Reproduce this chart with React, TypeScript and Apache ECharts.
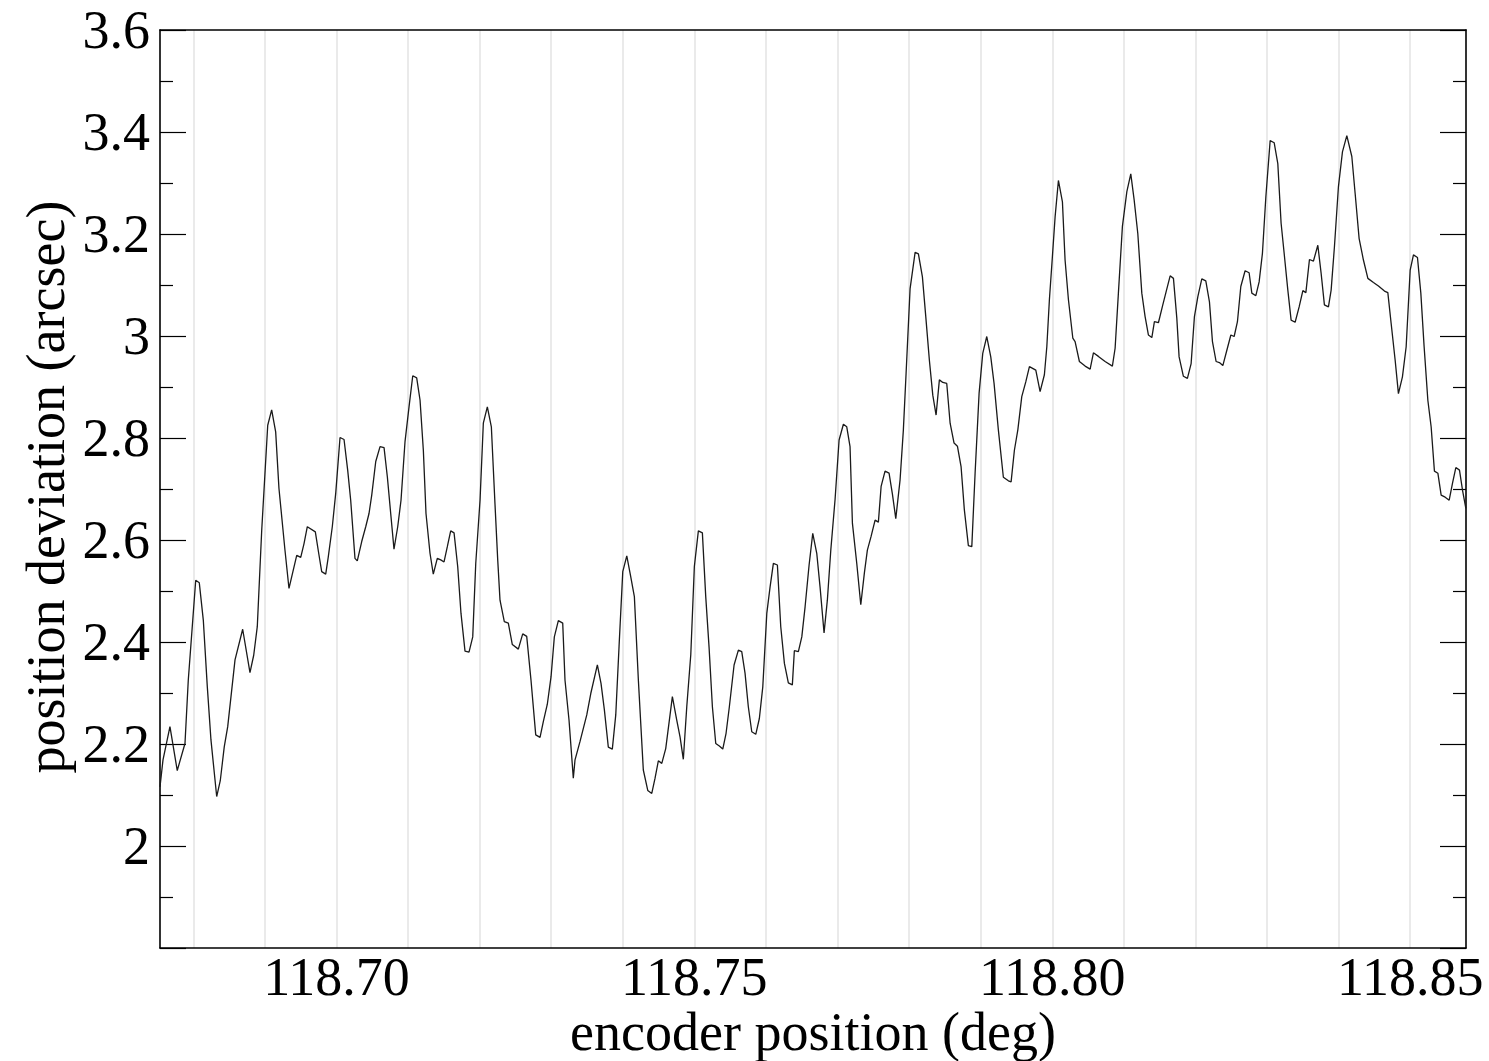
import React, { useEffect, useRef } from "react";
import * as echarts from "echarts";

// encoder position (deg)
const encoderPos: number[] = [
  118.67535, 118.67577, 118.67674, 118.67776, 118.67884, 118.6793, 118.68034, 118.68084, 118.6814, 118.68196,
  118.68247, 118.68327, 118.68377, 118.68433, 118.68481, 118.68583, 118.6869, 118.68792, 118.68844, 118.68894,
  118.68956, 118.6904, 118.69095, 118.69151, 118.69197, 118.69281, 118.69337, 118.69445, 118.69501, 118.69547,
  118.69593, 118.69705, 118.69752, 118.69794, 118.6985,
  118.69886, 118.69942, 118.6999, 118.7005, 118.70106, 118.70157, 118.70199, 118.70259, 118.70291, 118.70353,
  118.70409, 118.70455, 118.70493, 118.70549, 118.70609, 118.70665, 118.70711, 118.70758, 118.70804, 118.70856,
  118.70902, 118.70958, 118.71014, 118.71066, 118.71121, 118.71168, 118.71214, 118.71251, 118.71307, 118.71353,
  118.71409, 118.71457, 118.71503, 118.71549, 118.71596, 118.71643, 118.71694, 118.7174, 118.71796, 118.71852,
  118.71904, 118.71946, 118.72006, 118.72052, 118.72108, 118.72164, 118.72215,
  118.72253, 118.72285, 118.72345, 118.72401, 118.72457, 118.72541, 118.72602, 118.72658, 118.72718, 118.72784,
  118.72844, 118.7289, 118.72946, 118.72998, 118.73044, 118.731, 118.73161, 118.73193, 118.73249, 118.73309,
  118.73333, 118.73403, 118.73497, 118.73553, 118.73645, 118.73696, 118.73743, 118.73798, 118.73854, 118.73902,
  118.73948, 118.74, 118.74056, 118.74111, 118.74162, 118.74218, 118.74287, 118.74349, 118.74405, 118.74451,
  118.74497, 118.74545, 118.746,
  118.74693, 118.74754, 118.748, 118.74846, 118.74894, 118.7495, 118.75, 118.75056, 118.75112, 118.75159,
  118.75205, 118.75252, 118.75299, 118.75349, 118.75397, 118.75443, 118.75489, 118.75555, 118.75615, 118.75662,
  118.75708, 118.75754, 118.75802, 118.75858, 118.75908, 118.75956, 118.76012, 118.76058, 118.76104, 118.7616,
  118.76207, 118.76258, 118.76313, 118.76369, 118.76397, 118.76453, 118.76501, 118.76547, 118.76603, 118.76654,
  118.7671, 118.76756, 118.76812, 118.76858, 118.76906, 118.76966,
  118.77022, 118.77082, 118.77129, 118.77175, 118.77208, 118.77269, 118.77325, 118.77375, 118.77417, 118.77469,
  118.77525, 118.77571, 118.77609, 118.77664, 118.7772, 118.77766, 118.77814, 118.77874, 118.7792, 118.77958,
  118.78014, 118.78084, 118.7813, 118.78186, 118.78233, 118.78283, 118.78331, 118.78377, 118.78423, 118.78471,
  118.78526, 118.78573, 118.78628, 118.78675, 118.78726, 118.78772, 118.78828, 118.78876, 118.78922, 118.78978,
  118.79029, 118.79085, 118.79141, 118.79187, 118.79247, 118.79317, 118.79387,
  118.79425, 118.79471, 118.79519, 118.79574, 118.7963, 118.79681, 118.7977, 118.7983, 118.7989, 118.79924,
  118.7996, 118.80002, 118.8004, 118.80086, 118.80142, 118.80179, 118.80226, 118.80287, 118.80319, 118.80379,
  118.80459, 118.80529, 118.80575, 118.80645, 118.80738, 118.8084, 118.80878, 118.80924, 118.8098, 118.81042,
  118.81097, 118.81144, 118.81195, 118.81251, 118.81297, 118.81343, 118.81391, 118.81427, 118.81483, 118.81539,
  118.81591, 118.81647, 118.81693, 118.8174,
  118.81772, 118.81832, 118.81888, 118.8194, 118.81986, 118.82034, 118.82089, 118.82145, 118.82196, 118.82238,
  118.82289, 118.82335, 118.82383, 118.82439, 118.82495, 118.82541, 118.82587, 118.82634, 118.82694, 118.8275,
  118.82788, 118.82844, 118.8289, 118.82936, 118.82984, 118.83044, 118.831, 118.83151, 118.83197, 118.83244,
  118.83291, 118.83337, 118.83393, 118.83449, 118.83501, 118.83543, 118.83593, 118.83649, 118.8371, 118.83756,
  118.83802, 118.83858, 118.83896, 118.83942, 118.83998, 118.84054, 118.84115,
  118.84185, 118.84231, 118.84287, 118.84347, 118.84409, 118.84487, 118.84557, 118.84641, 118.84688, 118.84734,
  118.8479, 118.84836, 118.84892, 118.84944, 118.85, 118.85046, 118.85102, 118.85149, 118.85195, 118.85247,
  118.85293, 118.85339, 118.85387, 118.85433, 118.85489, 118.85545, 118.85591, 118.85638, 118.85689, 118.85731,
  118.85778,
];

// position deviation (arcsec)
const deviation: number[] = [
  2.116, 2.169, 2.234, 2.148, 2.201, 2.325, 2.521, 2.516, 2.443, 2.312,
  2.208, 2.097, 2.128, 2.195, 2.234, 2.365, 2.425, 2.34, 2.374, 2.43,
  2.619, 2.825, 2.855, 2.812, 2.701, 2.58, 2.505, 2.57, 2.566, 2.593,
  2.626, 2.616, 2.574, 2.538, 2.533,
  2.567, 2.626, 2.692, 2.801, 2.797, 2.737, 2.678, 2.564, 2.559, 2.597,
  2.626, 2.652, 2.688, 2.754, 2.783, 2.781, 2.724, 2.652, 2.582, 2.626,
  2.678, 2.793, 2.861, 2.922, 2.918, 2.874, 2.776, 2.652, 2.574, 2.533,
  2.564, 2.561, 2.557, 2.587, 2.618, 2.614, 2.548, 2.456, 2.382, 2.38,
  2.41, 2.554, 2.678, 2.829, 2.861, 2.822, 2.67,
  2.561, 2.482, 2.44, 2.437, 2.395, 2.386, 2.416, 2.411, 2.325, 2.218,
  2.213, 2.244, 2.278, 2.332, 2.41, 2.442, 2.437, 2.325, 2.247, 2.133,
  2.169, 2.205, 2.257, 2.299, 2.355, 2.319, 2.267, 2.194, 2.19, 2.257,
  2.391, 2.538, 2.569, 2.528, 2.489, 2.325, 2.149, 2.109, 2.103, 2.133,
  2.167, 2.162, 2.191,
  2.293, 2.247, 2.214, 2.17, 2.273, 2.375, 2.548, 2.618, 2.614, 2.489,
  2.391, 2.273, 2.201, 2.196, 2.19, 2.221, 2.273, 2.355, 2.384, 2.381,
  2.339, 2.273, 2.224, 2.219, 2.25, 2.312, 2.456, 2.508, 2.554, 2.551,
  2.43, 2.358, 2.32, 2.316, 2.383, 2.381, 2.41, 2.469, 2.551, 2.613,
  2.574, 2.508, 2.418, 2.482, 2.58, 2.68,
  2.796, 2.827, 2.822, 2.783, 2.633, 2.554, 2.473, 2.535, 2.58, 2.607,
  2.639, 2.635, 2.705, 2.735, 2.731, 2.691, 2.642, 2.718, 2.816, 2.927,
  3.093, 3.164, 3.161, 3.116, 3.038, 2.953, 2.884, 2.845, 2.914, 2.909,
  2.907, 2.829, 2.79, 2.784, 2.744, 2.659, 2.589, 2.587, 2.731, 2.888,
  2.966, 2.999, 2.959, 2.907, 2.816, 2.723, 2.716,
  2.714, 2.776, 2.816, 2.881, 2.91, 2.94, 2.933, 2.891, 2.924, 2.979,
  3.071, 3.156, 3.234, 3.305, 3.263, 3.149, 3.071, 2.996, 2.989, 2.95,
  2.941, 2.935, 2.967, 2.96, 2.95, 2.941, 2.976, 3.084, 3.215, 3.283,
  3.318, 3.267, 3.201, 3.084, 3.038, 3.002, 2.997, 3.028, 3.026, 3.058,
  3.087, 3.118, 3.113, 3.035,
  2.959, 2.921, 2.917, 2.946, 3.038, 3.077, 3.112, 3.108, 3.067, 2.989,
  2.95, 2.948, 2.942, 2.972, 3.002, 2.999, 3.028, 3.097, 3.128, 3.124,
  3.084, 3.079, 3.106, 3.162, 3.273, 3.383, 3.379, 3.338, 3.221, 3.156,
  3.09, 3.031, 3.027, 3.057, 3.089, 3.085, 3.15, 3.147, 3.178, 3.123,
  3.061, 3.057, 3.09, 3.175, 3.293, 3.361, 3.393,
  3.352, 3.28, 3.191, 3.149, 3.113, 3.105, 3.098, 3.088, 3.085, 3.025,
  2.953, 2.887, 2.92, 2.979, 3.129, 3.159, 3.154, 3.084, 2.979, 2.874,
  2.822, 2.735, 2.731, 2.688, 2.684, 2.678, 2.711, 2.742, 2.737, 2.698,
  2.662,
];

const xGridValues: number[] = [
  118.68, 118.69, 118.7, 118.71, 118.72, 118.73, 118.74, 118.75, 118.76,
  118.77, 118.78, 118.79, 118.8, 118.81, 118.82, 118.83, 118.84, 118.85,
];
const xLabelValues: number[] = [118.7, 118.75, 118.8, 118.85];
const yLabelValues: number[] = [2, 2.2, 2.4, 2.6, 2.8, 3, 3.2, 3.4, 3.6];

const X_TITLE = "encoder position (deg)";
const Y_TITLE = "position deviation (arcsec)";

const X_MIN = 118.67535;
const X_MAX = 118.8578;
const Y_MIN = 1.8;
const Y_MAX = 3.6;

const FONT = '"Liberation Serif", "Times New Roman", Times, serif';
const FS = 54;

export default function App() {
  const ref = useRef<HTMLDivElement>(null);

  useEffect(() => {
    if (!ref.current) return;
    const chart = echarts.init(ref.current, null, { renderer: "svg" });
    const data = encoderPos.map((x, i) => [x, deviation[i]]);

    const axisLineStyle = { color: "#000", width: 1.6 };
    const yCommon: any = {
      type: "value",
      min: Y_MIN,
      max: Y_MAX,
      interval: 0.2,
      axisLine: { show: true, onZero: false, lineStyle: axisLineStyle },
      axisTick: { show: true, inside: true, length: 26, lineStyle: { color: "#000", width: 1.2 } },
      minorTick: { show: true, splitNumber: 2, length: 13, lineStyle: { color: "#000", width: 1.2 } },
      splitLine: { show: false },
      minorSplitLine: { show: false },
    };

    chart.setOption({
      animation: false,
      backgroundColor: "#ffffff",
      grid: {
        left: 160,
        right: 23,
        top: 30,
        bottom: 113,
        containLabel: false,
        outerBoundsMode: "none",
      },
      xAxis: [
        {
          type: "value",
          min: X_MIN,
          max: X_MAX,
          position: "bottom",
          axisLine: { show: true, onZero: false, lineStyle: axisLineStyle },
          axisTick: { show: false, customValues: xGridValues },
          splitLine: { show: true, lineStyle: { color: "#e3e3e3", width: 1.5 } },
          axisLabel: {
            customValues: xLabelValues,
            formatter: (v: number) => v.toFixed(2),
            fontFamily: FONT,
            fontSize: FS,
            lineHeight: 44,
            color: "#000",
            margin: 7,
          },
        },
        {
          type: "value",
          min: X_MIN,
          max: X_MAX,
          position: "top",
          axisLine: { show: true, onZero: false, lineStyle: axisLineStyle },
          axisTick: { show: false },
          axisLabel: { show: false },
          splitLine: { show: false },
        },
      ],
      yAxis: [
        {
          ...yCommon,
          position: "left",
          axisLabel: {
            customValues: yLabelValues,
            formatter: (v: number) => String(parseFloat(v.toFixed(1))),
            fontFamily: FONT,
            fontSize: FS,
            color: "#000",
            margin: 10,
          },
        },
        {
          ...yCommon,
          position: "right",
          axisLabel: { show: false },
        },
      ],
      graphic: [
        {
          type: "text",
          x: 46,
          y: 487,
          rotation: Math.PI / 2,
          style: {
            text: Y_TITLE,
            fontFamily: FONT,
            fontSize: FS,
            fill: "#000",
            align: "center",
            verticalAlign: "middle",
          },
        },
        {
          type: "text",
          x: 813,
          y: 1032,
          style: {
            text: X_TITLE,
            fontFamily: FONT,
            fontSize: FS,
            lineHeight: 40,
            fill: "#000",
            align: "center",
            verticalAlign: "middle",
          },
        },
      ],
      series: [
        {
          type: "line",
          data,
          xAxisIndex: 0,
          yAxisIndex: 0,
          symbol: "none",
          showSymbol: false,
          lineStyle: { color: "#1a1a1a", width: 1.3 },
          z: 5,
        },
      ],
    });

    return () => chart.dispose();
  }, []);

  return (
    <div
      ref={ref}
      style={{ position: "fixed", left: 0, top: 0, width: 1489, height: 1061, background: "#fff" }}
    />
  );
}
